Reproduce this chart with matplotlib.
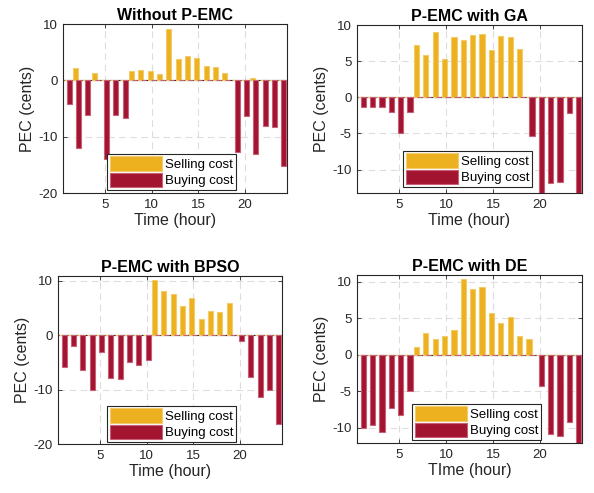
import matplotlib
matplotlib.use('Agg')
import matplotlib.pyplot as plt
import numpy as np

plt.rcParams['font.family'] = ['Liberation Sans', 'DejaVu Sans']
plt.rcParams['axes.unicode_minus'] = False

hours = np.arange(1, 25)

# Without P-EMC
sell_none = [0, 2.2, 0, 1.3, 0, 0, 0, 1.7, 1.8, 1.7, 1.2, 9.2,
             3.7, 4.3, 3.9, 2.6, 2.3, 1.3, 0, 0, 0.4, 0, 0, 0]
buy_none = [-4.2, -12.1, -6.1, 0, -13.9, -6.1, -6.6, 0, 0, 0, 0, 0,
            0, 0, 0, 0, 0, 0, -12.7, -6.3, -13.0, -8.1, -8.2, -15.2]

# P-EMC with GA
sell_ga = [0, 0, 0, 0, 0, 0, 7.2, 5.9, 9.0, 5.3, 8.3, 7.9,
           8.6, 8.8, 6.6, 8.5, 8.4, 6.7, 0, 0, 0, 0, 0, 0]
buy_ga = [-1.3, -1.3, -1.3, -2.1, -4.9, -2.1, 0, 0, 0, 0, 0, 0,
          0, 0, 0, 0, 0, 0, -5.3, -13.5, -11.8, -11.75, -2.2, -13.2]

# P-EMC with BPSO
sell_bpso = [0, 0, 0, 0, 0, 0, 0, 0, 0, 0, 10.2, 8.2,
             7.5, 5.4, 6.8, 2.9, 4.4, 4.2, 6.0, 0, 0, 0, 0, 0]
buy_bpso = [-5.9, -1.9, -6.3, -10.1, -3.0, -7.9, -8.1, -4.9, -5.5, -4.5, 0, 0,
            0, 0, 0, 0, 0, 0, 0, -1.0, -7.6, -11.3, -10.0, -16.4]

# P-EMC with DE
sell_de = [0, 0, 0, 0, 0, 0, 1.0, 3.0, 2.2, 2.6, 3.4, 10.3,
           9.0, 9.3, 5.7, 4.3, 5.2, 2.5, 2.2, 0, 0, 0, 0, 0]
buy_de = [-10.0, -9.6, -10.6, -7.3, -8.3, -5.0, 0, 0, 0, 0, 0, 0,
          0, 0, 0, 0, 0, 0, 0, -4.3, -10.8, -11.2, -9.2, -12.2]

YELLOW = '#EDB120'
RED = '#A2142F'
W, H = 594, 493

fig = plt.figure(figsize=(W / 100, H / 100), dpi=100)


def make_axes(l, t, r, b):
    return fig.add_axes([l / W, 1 - b / H, (r - l) / W, (b - t) / H])


def draw_panel(ax, sell, buy, title, xlabel, ylim, yticks, leg_box):
    ax.set_axisbelow(True)
    ax.grid(True, linestyle=(0, (6, 4)), color='#dddddd', linewidth=0.8)
    ax.axhline(0, color='#262626', linewidth=0.8, zorder=1)
    ax.bar(hours - 0.16, sell, width=0.55, color=YELLOW,
           edgecolor='#f3cc6a', linewidth=0.8, label='Selling cost', zorder=2)
    ax.bar(hours + 0.16, buy, width=0.55, color=RED,
           edgecolor='#c86078', linewidth=0.8, label='Buying cost', zorder=3)
    ax.set_xlim(0.5, 24.5)
    ax.set_ylim(*ylim)
    ax.set_xticks([5, 10, 15, 20])
    ax.set_yticks(yticks)
    ax.tick_params(direction='in', length=3, width=0.6, top=True, right=True,
                   labelsize=9.5, colors='#262626', pad=4)
    for s in ax.spines.values():
        s.set_color('#262626')
        s.set_linewidth(0.8)
    ax.set_title(title, fontsize=11.5, fontweight='bold', pad=3)
    ax.set_xlabel(xlabel, fontsize=11.5, color='#262626', labelpad=2)
    ax.set_ylabel('PEC (cents)', fontsize=11.5, color='#262626', labelpad=2)
    leg = ax.legend(loc='lower left', bbox_to_anchor=leg_box, borderaxespad=0,
                    fancybox=False, framealpha=1, edgecolor='#262626',
                    fontsize=9.5, handlelength=4.0, handleheight=1.3,
                    handletextpad=0.2, labelspacing=0.15, borderpad=0.2)
    leg.get_frame().set_linewidth(0.8)


ax1 = make_axes(63, 24, 287, 193)
draw_panel(ax1, sell_none, buy_none, 'Without P-EMC', 'Time (hour)',
           (-20, 10), [-20, -10, 0, 10], ((107 - 63) / 224, (193 - 190) / 169))

ax2 = make_axes(357, 25, 582, 193)
draw_panel(ax2, sell_ga, buy_ga, 'P-EMC with GA', 'Time (hour)',
           (-13.25, 10), [-10, -5, 0, 5, 10], ((403 - 357) / 225, (193 - 187) / 168))

ax3 = make_axes(58, 276, 282, 444)
draw_panel(ax3, sell_bpso, buy_bpso, 'P-EMC with BPSO', 'Time (hour)',
           (-20, 10.9), [-20, -10, 0, 10], ((107 - 58) / 224, (444 - 442) / 168))

ax4 = make_axes(357, 275, 582, 443)
draw_panel(ax4, sell_de, buy_de, 'P-EMC with DE', 'TIme (hour)',
           (-12.1, 10.9), [-10, -5, 0, 5, 10], ((412 - 357) / 225, (443 - 440) / 168))

fig.savefig('out.png', dpi=100)
